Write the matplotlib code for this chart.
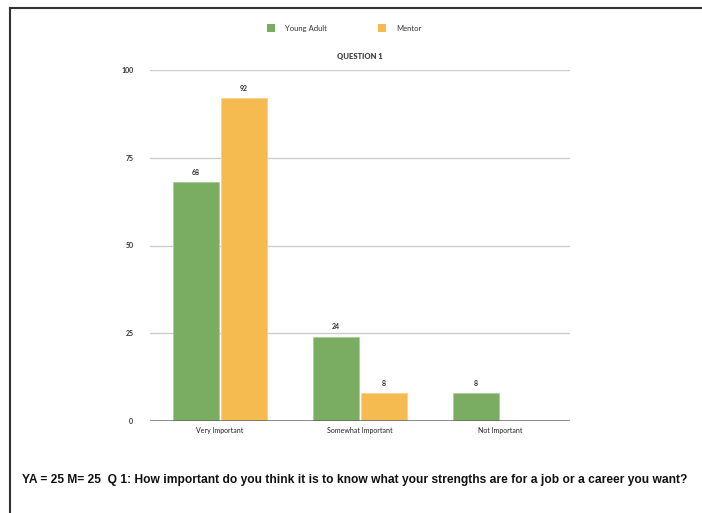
import matplotlib
matplotlib.use("Agg")
import matplotlib.pyplot as plt
from matplotlib.patches import Rectangle
from matplotlib.lines import Line2D
import numpy as np

categories = ["Very Important", "Somewhat Important", "Not Important"]
young_adult = [68, 24, 8]
mentor = [92, 8, 0]
yticks = [0, 25, 50, 75, 100]

GREEN = "#7aac62"
ORANGE = "#f5ba50"
FONT = "Lato"

fig = plt.figure(figsize=(7.02, 5.13), dpi=100)
ax = fig.add_axes([150 / 702, 1 - 421 / 513, 420 / 702, 351 / 513])

x = np.arange(len(categories))
w = 0.325
off = 0.17
ax.bar(x - off, young_adult, w, color=GREEN, edgecolor="#a8cc96", linewidth=0.6, zorder=3)
for xi, v in zip(x, mentor):
    if v > 0:
        ax.bar(xi + off, v, w, color=ORANGE, edgecolor="#f8d28c", linewidth=0.6, zorder=3)

for xi, v in zip(x, young_adult):
    ax.text(xi - off, v + 1.8, str(v), ha="center", va="bottom", fontsize=5, family=FONT,
            weight="bold", color="#333333")
for xi, v in zip(x, mentor):
    if v > 0:
        ax.text(xi + off, v + 1.8, str(v), ha="center", va="bottom", fontsize=5, family=FONT,
                weight="bold", color="#333333")

ax.set_xlim(-0.5, 2.5)
ax.set_ylim(0, 100)
ax.set_yticks(yticks)
ax.set_yticklabels([str(t) for t in yticks], fontsize=5, family=FONT, weight="bold", color="#333333")
ax.set_xticks(x)
ax.set_xticklabels(categories, fontsize=5, family=FONT, color="#222222")
ax.tick_params(length=0, pad=12, axis="y")
ax.tick_params(length=0, pad=4, axis="x")
for s in ax.spines.values():
    s.set_visible(False)
for t in yticks[1:]:
    ax.axhline(t, color="#cccccc", linewidth=1.0, zorder=1)
ax.axhline(0, color="#666666", linewidth=1.8, zorder=4)

fig.text(360 / 702, 1 - 56 / 513, "QUESTION 1", ha="center", va="center", fontsize=5.5,
         family=FONT, weight="heavy", color="#444444")

# legend
fig.patches.append(Rectangle((267 / 702, 1 - 32 / 513), 8 / 702, 8 / 513, transform=fig.transFigure,
                             facecolor=GREEN, edgecolor="none"))
fig.text(285 / 702, 1 - 28.5 / 513, "Young Adult", ha="left", va="center", fontsize=5.5, family=FONT, color="#333333")
fig.patches.append(Rectangle((378 / 702, 1 - 32 / 513), 8 / 702, 8 / 513, transform=fig.transFigure,
                             facecolor=ORANGE, edgecolor="none"))
fig.text(396 / 702, 1 - 28.5 / 513, "Mentor", ha="left", va="center", fontsize=5.5, family=FONT, color="#333333")

fig.text(22 / 702, 1 - 480 / 513,
         "YA = 25 M= 25  Q 1: How important do you think it is to know what your strengths are for a job or a career you want?",
         ha="left", va="center", fontsize=8.66, family="Liberation Sans", weight="bold", color="#111111")

# frame border
fig.lines.append(Line2D([10 / 702, 10 / 702], [0, 1 - 8 / 513], transform=fig.transFigure, color="#333333", linewidth=1.5))
fig.lines.append(Line2D([10 / 702, 1], [1 - 8 / 513, 1 - 8 / 513], transform=fig.transFigure, color="#333333", linewidth=1.5))

fig.savefig("out.png", dpi=100)
